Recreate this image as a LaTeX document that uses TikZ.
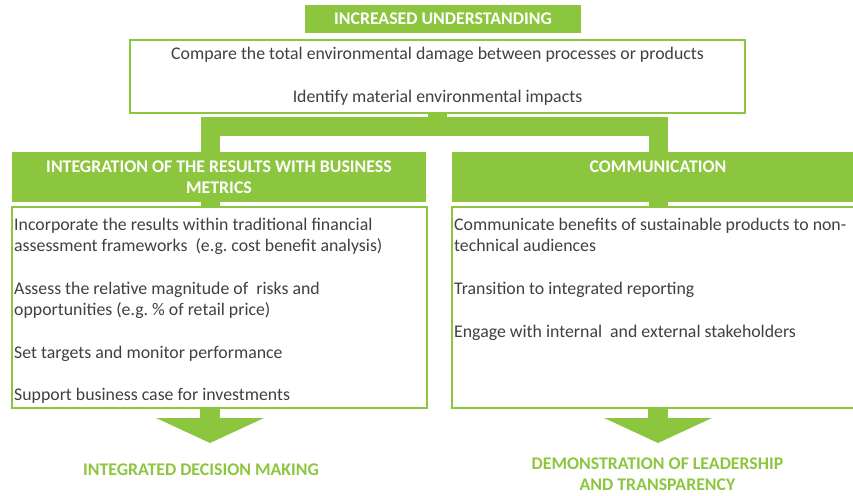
\documentclass[tikz,border=0pt]{standalone}
\usepackage{fontspec}
\setmainfont{Carlito}
\usetikzlibrary{arrows.meta}
\definecolor{leaf}{HTML}{8CC63F}
\definecolor{ink}{HTML}{404040}
\frenchspacing

\begin{document}
\begin{tikzpicture}[x=1pt,y=-1pt,line join=miter,
	font=\fontsize{17.8}{21.3}\selectfont,
	head node/.style={rectangle,fill=leaf,text=white,font=\fontsize{17.8}{21.3}\selectfont\bfseries,align=center,inner sep=0pt},
	box node/.style={rectangle,draw=leaf,line width=2pt,fill=white,inner sep=0pt},
	text node/.style={text=ink,align=left,inner sep=0pt,anchor=north west},
	goal node/.style={text=leaf,font=\fontsize{17.8}{21.3}\selectfont\bfseries,align=center,inner sep=0pt},
	link/.style={draw=leaf,line width=19pt},
	big arrow/.style={draw=leaf,fill=leaf,line width=20pt,-{Triangle[width=107pt,length=25pt]}}]

	\useasboundingbox (0,0) rectangle (853,495);

	\node[head node, minimum width=276, minimum height=28] (under) at (443,19) {INCREASED UNDERSTANDING};
	\node[box node, minimum width=615, minimum height=73, text=ink, align=center] (top) at (437.5,76.5)
		{\raisebox{-2pt}{Compare the total environmental damage between processes or products}\\[21.3pt]\raisebox{-2pt}{Identify material environmental impacts}};

	\node[head node, minimum width=414, minimum height=50] (lhead) at (219,177) {INTEGRATION OF THE RESULTS WITH BUSINESS\\METRICS};
	\node[head node, minimum width=412, minimum height=50] (rhead) at (658,177) {COMMUNICATION\\~};

	\node[box node, minimum width=415, minimum height=201] (lbox) at (219.5,307.5) {};
	\node[box node, minimum width=412, minimum height=201] (rbox) at (658,307.5) {};

	\node[text node] (ltext) at ([shift={(3,12)}]lbox.north west)
		{Incorporate the results within traditional financial\\
		assessment frameworks\ \ (e.g. cost benefit analysis)\\[21.3pt]
		Assess the relative magnitude of\ \ risks and\\
		opportunities (e.g. \% of retail price)\\[21.3pt]
		Set targets and monitor performance\\[21.3pt]
		Support business case for investments};
	\node[text node] (rtext) at ([shift={(3,12)}]rbox.north west)
		{Communicate benefits of sustainable products to non-\\
		technical audiences\\[21.3pt]
		Transition to integrated reporting\\[21.3pt]
		Engage with internal\ \ and external stakeholders};

	\node[goal node] (decide) at (201,470) {INTEGRATED DECISION MAKING};
	\node[goal node] (lead) at (657.5,474.5) {DEMONSTRATION OF LEADERSHIP\\AND TRANSPARENCY};

	\coordinate (fork) at (437.5,126);
	\coordinate (lcol) at (210,0);
	\coordinate (rcol) at (658,0);
	\coordinate (ltip) at (210,443);
	\coordinate (rtip) at (658,443);

	\path[link] (top.south) -- (fork)
		(lhead.north -| lcol) |- (fork) -| (rhead.north -| rcol)
		(lhead.south -| lcol) -- (lbox.north -| lcol)
		(rhead.south -| rcol) -- (rbox.north -| rcol);
	\draw[big arrow] (lbox.south -| lcol) -- (ltip);
	\draw[big arrow] (rbox.south -| rcol) -- (rtip);
\end{tikzpicture}
\end{document}
